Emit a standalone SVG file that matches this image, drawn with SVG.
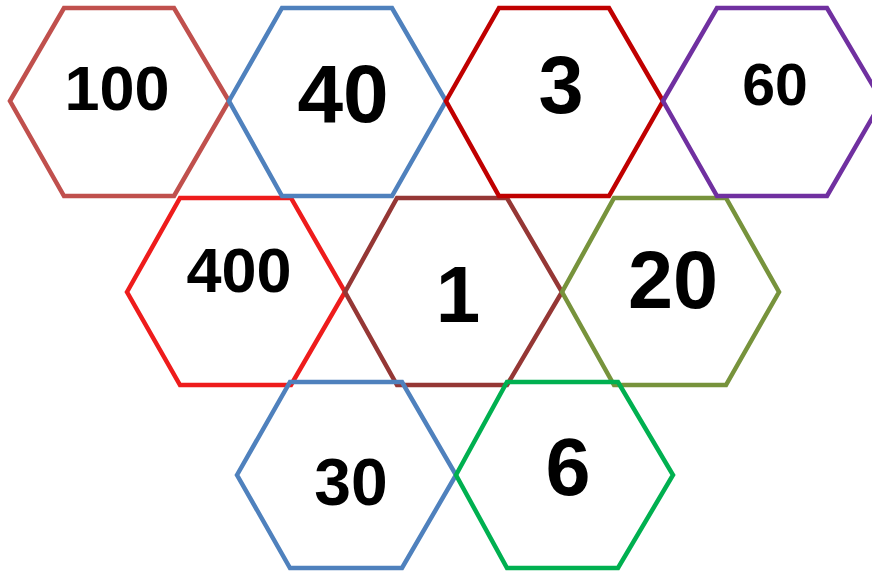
<svg xmlns="http://www.w3.org/2000/svg" width="872" height="574" viewBox="0 0 872 574">
<style>
.hex{fill:none;stroke-width:4.5;stroke-linejoin:miter}
.t{font-family:"Liberation Sans",Arial,sans-serif;font-weight:bold;fill:#000;text-anchor:middle}
</style>
<rect width="872" height="574" fill="#fff"/>
<g id="n400"><polygon class="hex" stroke="#ee1c1c" points="127,292 180,198 291,198 345,292 291,385 180,385"/><text class="t" x="239" y="292" font-size="63">400</text></g>
<g id="n1"><polygon class="hex" stroke="#953735" points="345,292 397,198 507,198 562,292 507,385 397,385"/><text class="t" x="458" y="322" font-size="80">1</text></g>
<g id="n20"><polygon class="hex" stroke="#77933c" points="562,292 614,198 726,198 779,292 726,385 614,385"/><text class="t" x="673" y="308" font-size="81">20</text></g>
<g id="n100"><polygon class="hex" stroke="#c0504d" points="10,101 64,8 174,8 229,101 174,196 64,196"/><text class="t" x="117" y="110" font-size="63">100</text></g>
<g id="n40"><polygon class="hex" stroke="#4f81bd" points="229,101 282,8 392,8 446,101 392,196 282,196"/><text class="t" x="343" y="122" font-size="82">40</text></g>
<g id="n3"><polygon class="hex" stroke="#c00000" points="446,101 499,8 609,8 663,101 609,196 499,196"/><text class="t" x="561" y="113" font-size="81">3</text></g>
<g id="n60"><polygon class="hex" stroke="#7030a0" points="663,101 717,8 827,8 882,101 827,196 717,196"/><text class="t" x="775" y="105" font-size="59">60</text></g>
<g id="n30"><polygon class="hex" stroke="#4f81bd" points="237,475 290,382 402,382 456,475 402,568 290,568"/><text class="t" x="351" y="505" font-size="66">30</text></g>
<g id="n6"><polygon class="hex" stroke="#00b050" points="456,475 507,382 618,382 673,475 618,568 507,568"/><text class="t" x="568" y="495" font-size="81">6</text></g>
<g id="connectors"></g>
</svg>
